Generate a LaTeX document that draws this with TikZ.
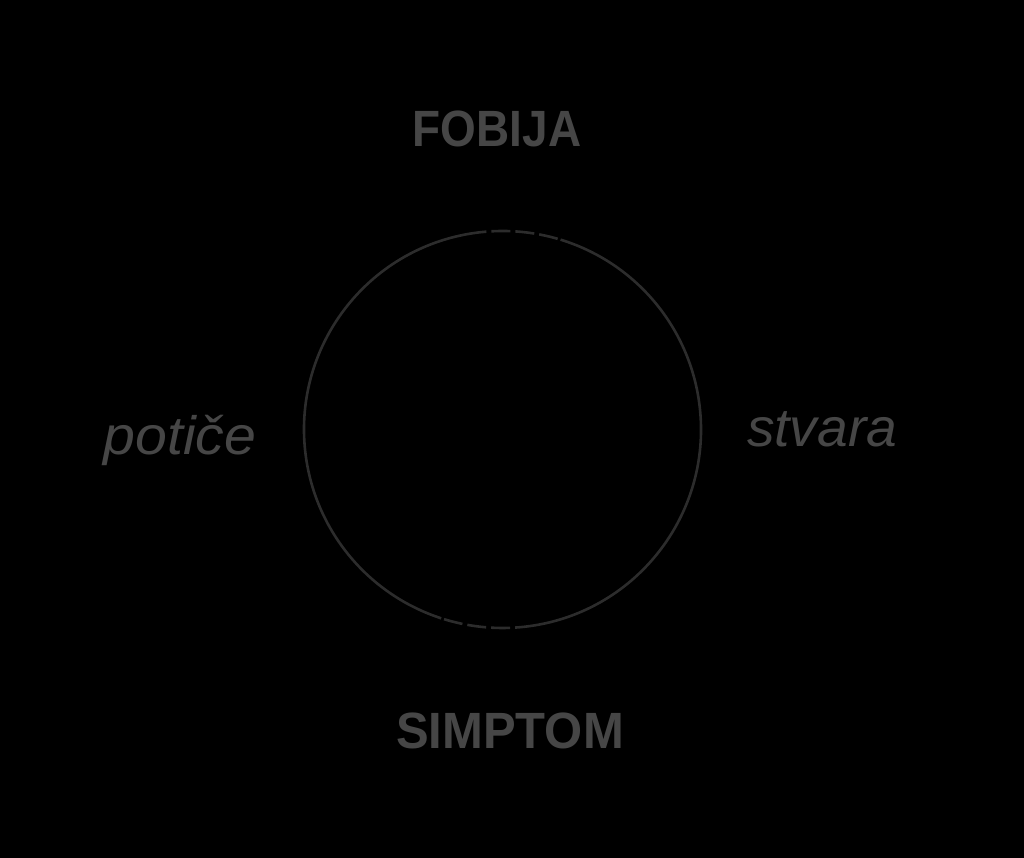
\documentclass[tikz,border=0pt]{standalone}
\usepackage{fontspec}
\setmainfont{Liberation Sans}
\definecolor{txtgray}{HTML}{464646}
\definecolor{ringgray}{HTML}{2C2C2C}
\begin{document}
\begin{tikzpicture}[x=1pt,y=1pt,
  title/.style={text=txtgray,font=\fontsize{51}{51}\selectfont\bfseries,anchor=base,inner sep=0pt},
  verb/.style={text=txtgray,font=\fontsize{54}{54}\selectfont\itshape,anchor=base,inner sep=0pt},
  ring/.style={draw=ringgray,line width=2.6pt},
  ringdash/.style={ring,dash pattern=on 19pt off 5pt,dash phase=-3pt}]
\fill[black] (0,0) rectangle (1024,858);
\useasboundingbox (0,0) rectangle (1024,858);
\coordinate (c) at (502.5,428.5);
\draw[ring] ([shift={(98:198.5)}]c) arc[start angle=98,end angle=252,radius=198.5];
\draw[ring] ([shift={(278:198.5)}]c) arc[start angle=278,end angle=433,radius=198.5];
\draw[ringdash] ([shift={(73:198.5)}]c) arc[start angle=73,end angle=98,radius=198.5];
\draw[ringdash] ([shift={(252:198.5)}]c) arc[start angle=252,end angle=278,radius=198.5];
\node[title] (fobija) at (497,711) {\scalebox{0.9}[1]{FOBIJA}};
\node[title] (simptom) at (510,109) {\scalebox{0.96}[1]{SIMPTOM}};
\node[verb] (potice) at (180,403) {\scalebox{1.06}[1]{potiče}};
\node[verb] (stvara) at (822,411) {\scalebox{1.02}[1]{stvara}};
\end{tikzpicture}
\end{document}
